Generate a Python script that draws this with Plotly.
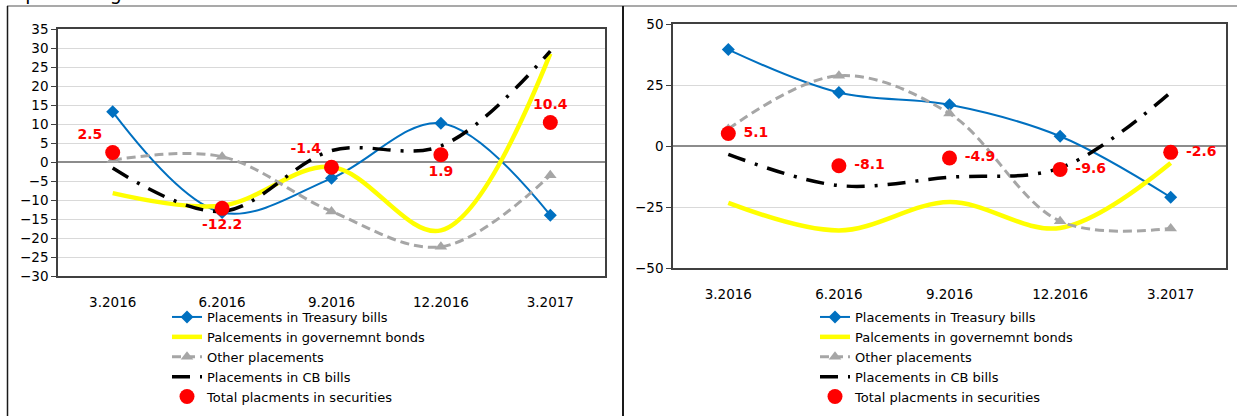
import plotly.graph_objects as go

# Quarter-end categories shared by both panels
quarters = ["3.2016", "6.2016", "9.2016", "12.2016", "3.2017"]

# Left panel: contributions in percentages
left_treasury = [13.2, -13.3, -4.3, 10.2, -14.0]
left_gov_bonds = [-8.2, -11.5, -1.3, -18.0, 28.5]
left_other = [0.5, 1.4, -13.0, -22.3, -3.5]
left_cb_bills = [-1.6, -13.0, 3.0, 4.2, 29.2]
left_total = [2.5, -12.2, -1.4, 1.9, 10.4]
left_label_pos = ["top left", "bottom center", "top left", "bottom center", "top center"]

# Right panel
right_treasury = [39.5, 21.9, 16.9, 4.0, -21.0]
right_gov_bonds = [-23.3, -34.6, -23.0, -33.6, -7.0]
right_other = [7.0, 28.8, 13.3, -30.8, -33.8]
right_cb_bills = [-3.4, -16.2, -12.8, -9.0, 22.0]
right_total = [5.1, -8.1, -4.9, -9.6, -2.6]

series_names = [
    "Placements in Treasury bills",
    "Palcements in governemnt bonds",
    "Other placements",
    "Placements in CB bills",
    "Total placments in securities",
]

BLUE = "#0070C0"
YELLOW = "#FFFF00"
GRAY = "#A6A6A6"
BLACK = "#000000"
RED = "#FF0000"
FONT = "DejaVu Sans"

W, H = 1237, 416

fig = go.Figure()


def add_panel(xa, ya, legend, treasury, bonds, other, cb, total, label_pos, label_tpl):
    common = dict(xaxis=xa, yaxis=ya, legend=legend, x=quarters)
    fig.add_trace(go.Scatter(
        y=treasury, name=series_names[0], mode="lines+markers",
        line=dict(color=BLUE, width=2, shape="spline", smoothing=1.0),
        marker=dict(symbol="diamond", size=10, color=BLUE), **common))
    fig.add_trace(go.Scatter(
        y=bonds, name=series_names[1], mode="lines",
        line=dict(color=YELLOW, width=4.5, shape="spline", smoothing=1.0), **common))
    fig.add_trace(go.Scatter(
        y=other, name=series_names[2], mode="lines+markers",
        line=dict(color=GRAY, width=3, dash="9px,5px", shape="spline", smoothing=1.0),
        marker=dict(symbol="triangle-up", size=11, color=GRAY), **common))
    fig.add_trace(go.Scatter(
        y=cb, name=series_names[3], mode="lines",
        line=dict(color=BLACK, width=3.5, dash="18px,10px,3px,10px", shape="spline", smoothing=1.0),
        **common))
    fig.add_trace(go.Scatter(
        y=total, name=series_names[4], mode="markers+text",
        marker=dict(symbol="circle", size=15, color=RED),
        texttemplate=label_tpl, textposition=label_pos,
        textfont=dict(family=FONT, size=14, color=RED, weight="bold"), **common))


add_panel("x", "y", "legend", left_treasury, left_gov_bonds, left_other,
          left_cb_bills, left_total, left_label_pos, "%{y:.1f}")
add_panel("x2", "y2", "legend2", right_treasury, right_gov_bonds, right_other,
          right_cb_bills, right_total, "middle right", " %{y:.1f}")


def px_x(p):
    return p / W


def px_y(p):
    return 1 - p / H


axis_font = dict(family=FONT, size=13.5, color="#000000")

xaxis_common = dict(
    type="category", range=[-0.5, 4.5], showgrid=False, zeroline=False,
    showline=True, mirror=True, linecolor="#404040", linewidth=1.5,
    ticks="", ticklabelstandoff=13, tickfont=axis_font, fixedrange=True,
    automargin=False,
)
yaxis_common = dict(
    showgrid=True, gridcolor="#D9D9D9", gridwidth=1,
    zeroline=True, zerolinecolor="#8C8C8C", zerolinewidth=1.5,
    showline=True, mirror=True, linecolor="#404040", linewidth=1.5,
    ticks="outside", ticklen=5, tickcolor="#404040", tickfont=axis_font,
    fixedrange=True, automargin=False,
)

legend_common = dict(
    font=dict(family=FONT, size=13, color="#000000"),
    bgcolor="rgba(0,0,0,0)", borderwidth=0,
    xanchor="left", yanchor="bottom", tracegroupgap=0,
)

fig.update_layout(
    template="none",
    width=W, height=H,
    margin=dict(l=0, r=0, t=0, b=0, autoexpand=False),
    paper_bgcolor="white", plot_bgcolor="white",
    xaxis=dict(domain=[px_x(58), px_x(605)], anchor="y", **xaxis_common),
    yaxis=dict(domain=[px_y(276), px_y(29)], anchor="x", range=[-30, 35],
               dtick=5, **yaxis_common),
    xaxis2=dict(domain=[px_x(673), px_x(1226)], anchor="y2", **xaxis_common),
    yaxis2=dict(domain=[px_y(268), px_y(24)], anchor="x2", range=[-50, 50],
                dtick=25, **yaxis_common),
    legend=dict(x=px_x(167), y=px_y(412), **legend_common),
    legend2=dict(x=px_x(815), y=px_y(412), **legend_common),
    showlegend=True,
    annotations=[dict(
        text="in percentages", xref="paper", yref="paper",
        x=0, y=px_y(-7), xanchor="left", yanchor="middle", showarrow=False,
        font=dict(family=FONT, size=19, color="#000000"),
    )],
    shapes=[
        # outer frame: top rule, left edge and panel separator
        dict(type="line", xref="paper", yref="paper", x0=px_x(7), x1=1,
             y0=px_y(6), y1=px_y(6), line=dict(color="#8C8C8C", width=1.5)),
        dict(type="line", xref="paper", yref="paper", x0=px_x(7.5), x1=px_x(7.5),
             y0=px_y(6), y1=0, line=dict(color="#1A1A1A", width=1.5)),
        dict(type="line", xref="paper", yref="paper", x0=px_x(623), x1=px_x(623),
             y0=px_y(6), y1=0, line=dict(color="#1A1A1A", width=2)),
    ],
)

fig.write_html("out.html")
